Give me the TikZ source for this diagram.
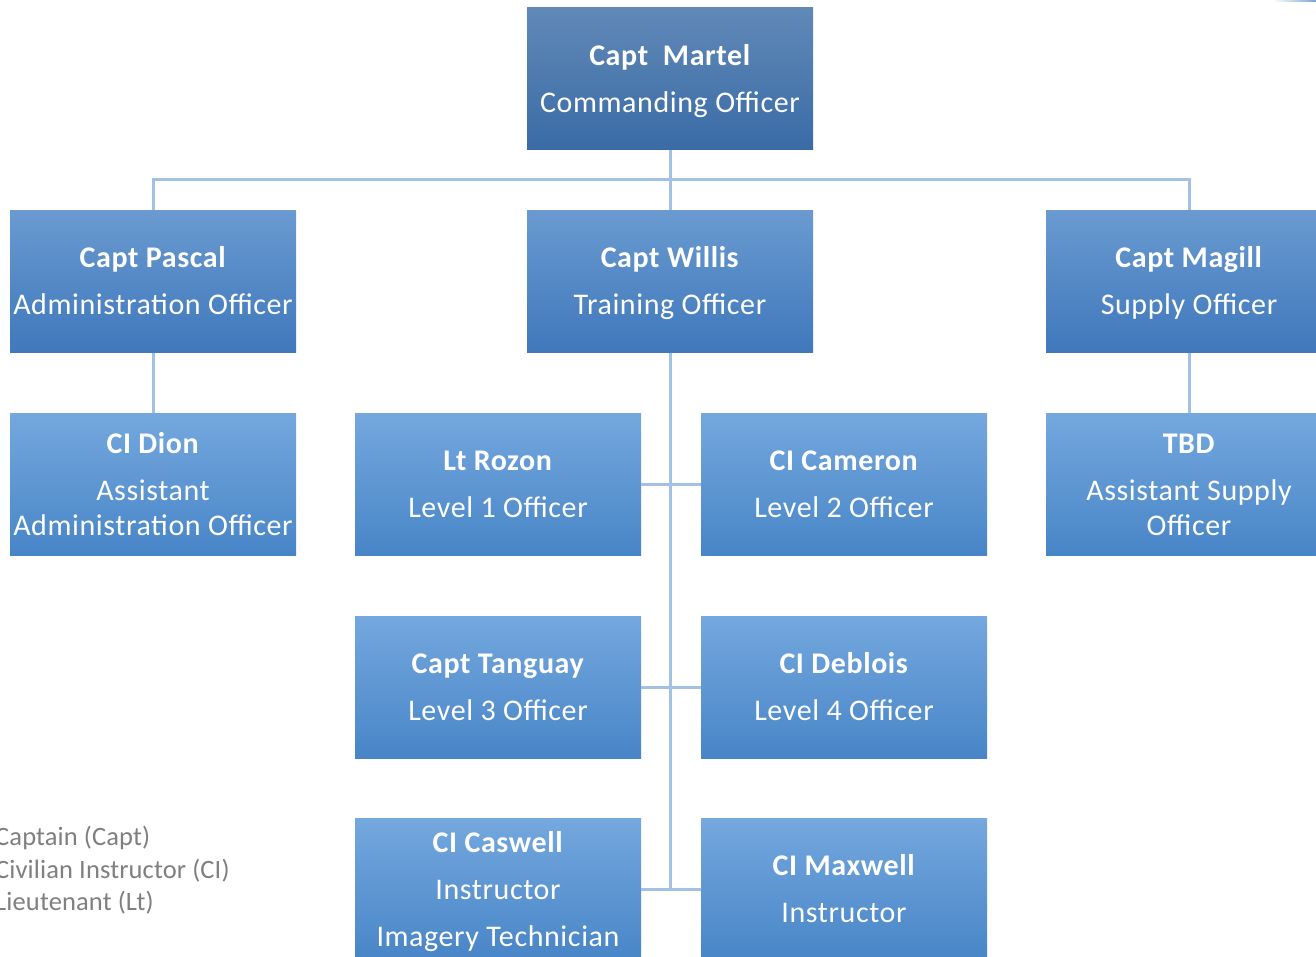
\documentclass[tikz,border=0pt]{standalone}
\usepackage{fontspec}
\setmainfont{Carlito}[LetterSpace=2]
\newfontfamily\legendfont{Carlito}[LetterSpace=0.5]
\definecolor{topA}{HTML}{6089B7}
\definecolor{topB}{HTML}{3A6BA6}
\definecolor{midA}{HTML}{6A9AD0}
\definecolor{midB}{HTML}{3F78BC}
\definecolor{lowA}{HTML}{74A8DE}
\definecolor{lowB}{HTML}{4885C7}
\definecolor{linkc}{HTML}{A2C1E5}
\definecolor{legendgray}{HTML}{7F7F7F}
\definecolor{fragc}{HTML}{7AA6D2}
% fixed top and bottom struts keep every text block centred the same way
\newcommand{\topstrut}{\rule{0pt}{28pt}}
\newcommand{\botstrut}{\rule[-8pt]{0pt}{8pt}}
\tikzset{
  box/.style={rectangle, minimum width=286pt, minimum height=142pt, inner sep=0pt,
    align=center, text=white, font=\fontsize{30}{35}\selectfont,
    execute at end node=\botstrut},
  topbox/.style={box, top color=topA, bottom color=topB},
  midbox/.style={box, top color=midA, bottom color=midB},
  lowbox/.style={box, top color=lowA, bottom color=lowB},
  link/.style={draw=linkc, line width=3pt},
  legend/.style={anchor=base west, inner sep=0pt, text=legendgray,
    font=\legendfont\fontsize{26.5}{32.5}\selectfont}
}
% bold name on the first line, then the role below it
\newcommand{\nm}[1]{\topstrut\textbf{#1}\\[12pt]}
\begin{document}
\begin{tikzpicture}[x=1pt,y=-1pt]
\useasboundingbox (0,0) rectangle (1316,957);
\clip (0,0) rectangle (1316,957);

% small shaded fragment at the upper right edge
\shade[left color=white, right color=fragc] (1272,0) rectangle (1316,2);

% command level
\node[topbox] (martel) at (670,79) {\nm{Capt\ \ Martel}Commanding Officer};

% staff officers
\node[midbox] (pascal) at (153,281.5) {\nm{Capt Pascal}Administration Officer};
\node[midbox] (willis) at (670,281.5) {\nm{Capt Willis}Training Officer};
\node[midbox] (magill) at (1189,281.5) {\nm{Capt Magill}Supply Officer};

% subordinates
\node[lowbox] (dion) at (153,484) {\nm{CI Dion}Assistant\\Administration Officer};
\node[lowbox] (rozon) at (498,484) {\nm{Lt Rozon}Level 1 Officer};
\node[lowbox] (cameron) at (844,484) {\nm{CI Cameron}Level 2 Officer};
\node[lowbox] (tbd) at (1189,484) {\nm{TBD}Assistant Supply\\Officer};
\node[lowbox] (tanguay) at (498,687) {\nm{Capt Tanguay}Level 3 Officer};
\node[lowbox] (deblois) at (844,687) {\nm{CI Deblois}Level 4 Officer};
\node[lowbox] (caswell) at (498,889) {\nm{CI Caswell}Instructor\\[12pt]Imagery Technician};
\node[lowbox] (maxwell) at (844,889) {\nm{CI Maxwell}Instructor};

% connectors
\coordinate (bus) at (670,180);
\coordinate (trunkend) at (willis.south |- caswell.east);
\draw[link] (martel.south) -- (willis.north);
\draw[link] (pascal.north) |- (bus) -| (magill.north);
\draw[link] (pascal.south) -- (dion.north);
\draw[link] (magill.south) -- (tbd.north);
\draw[link] (willis.south) -- (trunkend);
\draw[link] (rozon.east) -- (cameron.west);
\draw[link] (tanguay.east) -- (deblois.west);
\draw[link] (caswell.east) -- (maxwell.west);

% abbreviations
\node[legend] (legcapt) at (-5,845.5) {Captain (Capt)};
\node[legend] (legci) at (-5,878) {Civilian Instructor (CI)};
\node[legend] (leglt) at (-5,910.5) {Lieutenant (Lt)};
\end{tikzpicture}
\end{document}
